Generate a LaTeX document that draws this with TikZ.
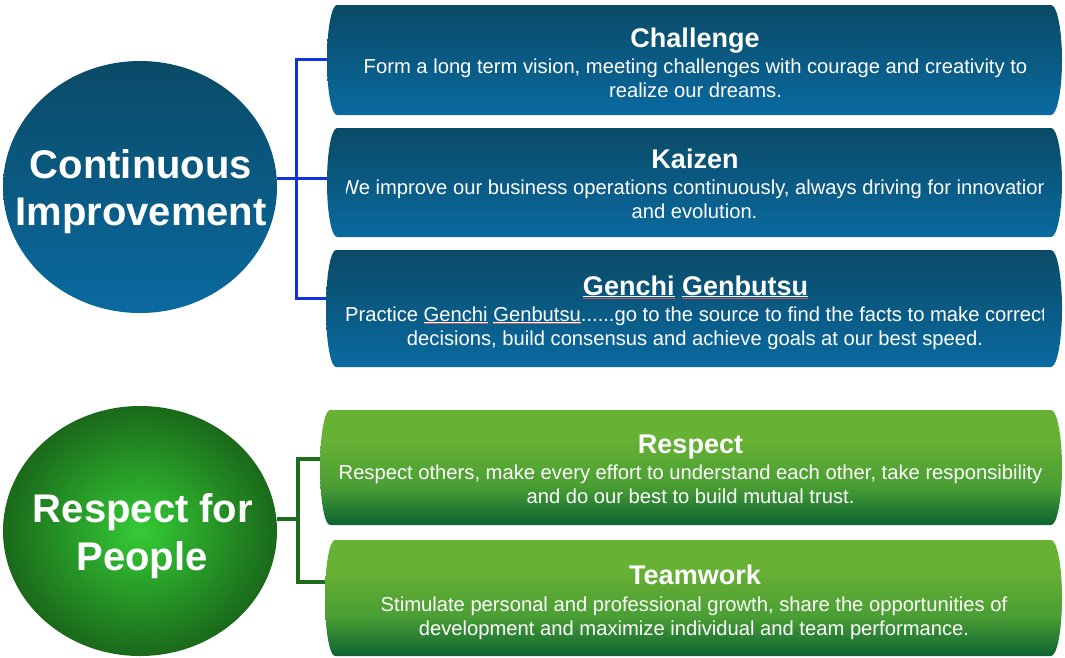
\documentclass[tikz,border=0pt]{standalone}
\usepackage{fontspec}
\setmainfont{Liberation Sans}
\usetikzlibrary{shapes.geometric}
\definecolor{cbTop}{HTML}{0A4A66}
\definecolor{cbBot}{HTML}{0A6AA0}
\definecolor{gbTop}{HTML}{67B134}
\definecolor{gbMid}{HTML}{4A9E34}
\definecolor{gbBot}{HTML}{0B6331}
\definecolor{gcIn}{HTML}{35CB35}
\definecolor{gcOut}{HTML}{1A691A}
\definecolor{lineBlue}{HTML}{1133DD}
\definecolor{lineGreen}{HTML}{1D6D1D}
\definecolor{spellred}{HTML}{C85A70}
\pgfdeclareverticalshading{greenbox}{100bp}{color(0bp)=(gbBot); color(25bp)=(gbBot); color(42bp)=(gbMid); color(62bp)=(gbTop); color(75bp)=(gbTop); color(100bp)=(gbTop)}
\newcommand\sperr[1]{\setbox0=\hbox{#1}\rlap{\rule[-0.08em]{\wd0}{0.04em}}\rlap{\textcolor{spellred}{\rule[-0.14em]{\wd0}{0.025em}}}#1}
\newcommand\capshape[3]{\path[#3] ([xshift=10pt]#1.north west) -- ([xshift=-11pt]#1.north east) arc[start angle=90,end angle=-90,x radius=11pt,y radius=#2pt/2] -- ([xshift=10pt]#1.south west) arc[start angle=270,end angle=90,x radius=10pt,y radius=#2pt/2] -- cycle;}
\begin{document}
\begin{tikzpicture}[x=1pt,y=1pt,
  boxarea/.style={rectangle, inner sep=0pt, outer sep=0pt, draw=none},
  titletext/.style={text=white, font=\fontsize{27}{31}\selectfont\bfseries, anchor=base, inner sep=0pt},
  bodytext/.style={text=white, font=\fontsize{20.2}{24}\selectfont, anchor=base, inner sep=0pt},
  circtext/.style={text=white, font=\fontsize{40}{47}\selectfont\bfseries, anchor=base, inner sep=0pt},
  blueline/.style={draw=lineBlue, line width=3pt},
  greenline/.style={draw=lineGreen, line width=4pt},
  bluefill/.style={top color=cbTop, bottom color=cbBot, draw=none},
  greenfill/.style={shade, shading=greenbox, draw=none}]
\fill[white] (0,0) rectangle (1065,-657);
\useasboundingbox (0,0) rectangle (1065,-657);
% circles
\node[ellipse, minimum width=274pt, minimum height=252pt, inner sep=0pt, top color=cbTop, bottom color=cbBot] (ci) at (140,-187) {};
\node[ellipse, minimum width=274pt, minimum height=250pt, inner sep=0pt, inner color=gcIn, outer color=gcOut] (cr) at (140,-531) {};
% box areas
\node[boxarea, minimum width=735pt, minimum height=110pt] (b1) at (694.5,-60) {};
\node[boxarea, minimum width=735pt, minimum height=109pt] (b2) at (694.5,-182.5) {};
\node[boxarea, minimum width=736pt, minimum height=117pt] (b3) at (694,-308.5) {};
\node[boxarea, minimum width=742pt, minimum height=115pt] (b4) at (691,-467.5) {};
\node[boxarea, minimum width=737pt, minimum height=116pt] (b5) at (693.5,-598) {};
% connector levels
\coordinate (y59) at (0,-59);
\coordinate (y178) at (0,-178);
\coordinate (y298) at (0,-298);
\coordinate (bj) at (296,-178);
\coordinate (y459) at (0,-459);
\coordinate (y519) at (0,-519);
\coordinate (y582) at (0,-582);
\coordinate (gj) at (298,-519);
% connectors
\draw[blueline] (ci.east |- y178) -- (b2.west |- y178);
\draw[blueline] (b1.west |- y59) -| (bj) |- (b3.west |- y298);
\draw[greenline] (cr.east |- y519) -- (gj);
\draw[greenline] (b4.west |- y459) -| (gj) |- (b5.west |- y582);
% box shapes
\capshape{b1}{110}{bluefill}
\capshape{b2}{109}{bluefill}
\capshape{b3}{117}{bluefill}
\capshape{b4}{115}{greenfill}
\capshape{b5}{116}{greenfill}
% circle texts
\node[circtext] (ci1) at (141,-178) {Continuous};
\node[circtext] (ci2) at (141,-225) {Improvement};
\node[circtext] (cr1) at (143,-522) {Respect for};
\node[circtext] (cr2) at (142,-570) {People};
% box texts
\node[titletext] (t1) at (695,-47) {Challenge};
\node[titletext] (t2) at (695,-168) {Kaizen};
\node[titletext] (t3) at (695.5,-295) {\sperr{Genchi} \sperr{Genbutsu}};
\node[titletext] (t4) at (690.5,-453) {Respect};
\node[titletext] (t5) at (695,-584) {Teamwork};
\begin{scope}
\clip ([xshift=18pt]b1.south west) rectangle ([xshift=-19pt]b1.north east);
\node[bodytext] (d1a) at (695.5,-73) {Form a long term vision, meeting challenges with courage and creativity to};
\node[bodytext] (d1b) at (695.5,-97) {realize our dreams.};
\end{scope}
\begin{scope}
\clip ([xshift=19pt]b2.south west) rectangle ([xshift=-19pt]b2.north east);
\node[bodytext] (d2a) at (694.5,-194) {We improve our business operations continuously, always driving for innovation};
\node[bodytext] (d2b) at (694.5,-218) {and evolution.};
\end{scope}
\begin{scope}
\clip ([xshift=14pt]b3.south west) rectangle ([xshift=-19pt]b3.north east);
\node[bodytext] (d3a) at (696,-321) {Practice \sperr{Genchi} \sperr{Genbutsu}......go to the source to find the facts to make correct};
\node[bodytext] (d3b) at (695,-345) {decisions, build consensus and achieve goals at our best speed.};
\end{scope}
\begin{scope}
\clip ([xshift=16pt]b4.south west) rectangle ([xshift=-18pt]b4.north east);
\node[bodytext] (d4a) at (690.5,-479) {Respect others, make every effort to understand each other, take responsibility};
\node[bodytext] (d4b) at (690.5,-503) {and do our best to build mutual trust.};
\end{scope}
\begin{scope}
\clip ([xshift=18pt]b5.south west) rectangle ([xshift=-19pt]b5.north east);
\node[bodytext] (d5a) at (694,-611) {Stimulate personal and professional growth, share the opportunities of};
\node[bodytext] (d5b) at (694,-635) {development and maximize individual and team performance.};
\end{scope}
\end{tikzpicture}
\end{document}
